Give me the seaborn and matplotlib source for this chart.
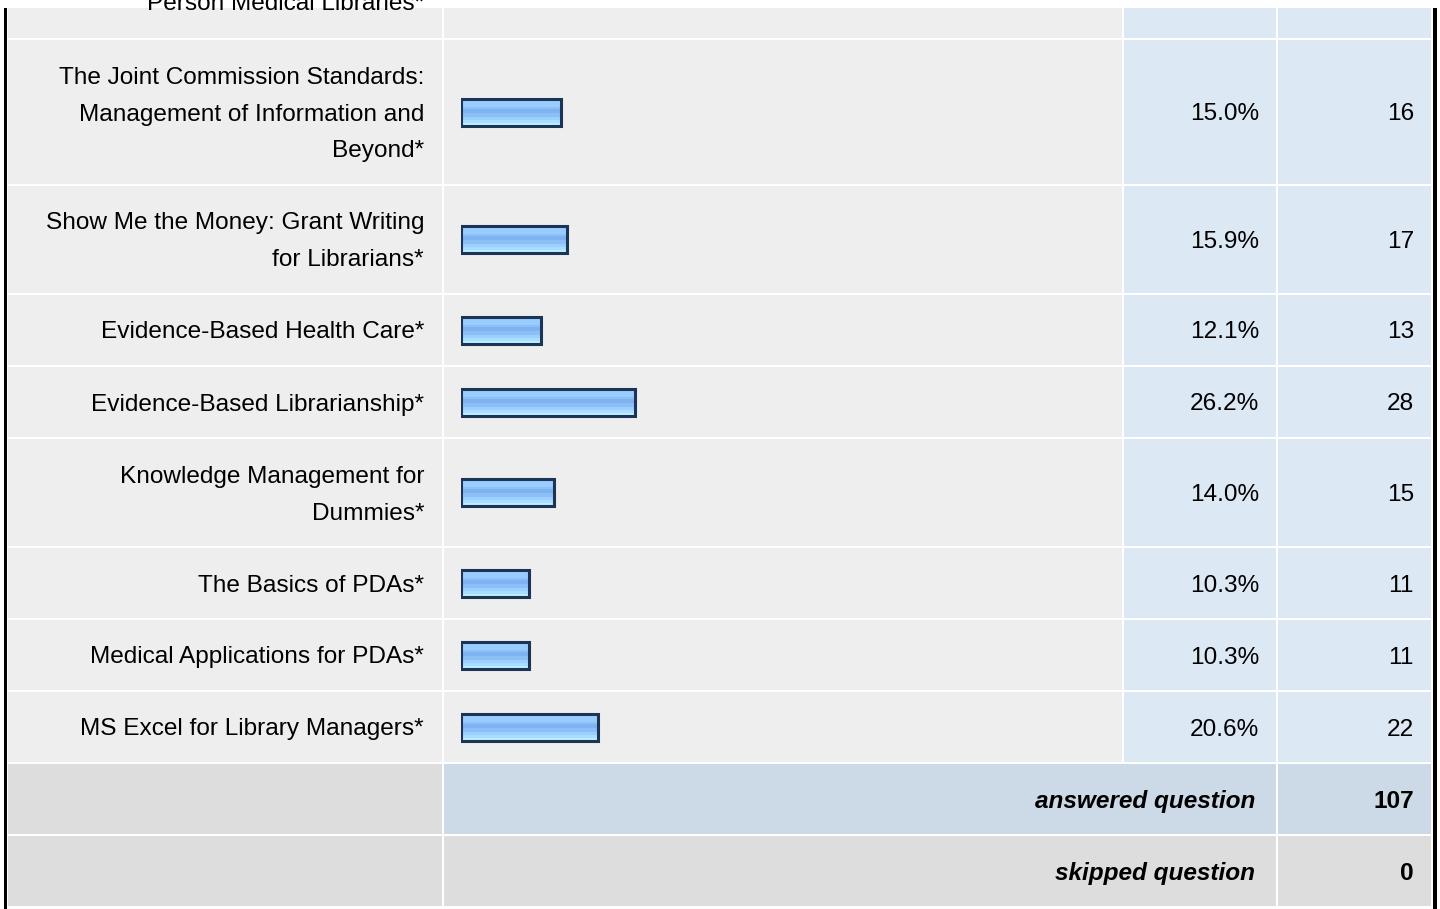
import matplotlib
matplotlib.use("Agg")
import matplotlib.pyplot as plt
from matplotlib.patches import Rectangle
import seaborn as sns

# ---------------- data ----------------
labels = [
    ["The Joint Commission Standards:", "Management of Information and", "Beyond*"],
    ["Show Me the Money: Grant Writing", "for Librarians*"],
    ["Evidence-Based Health Care*"],
    ["Evidence-Based Librarianship*"],
    ["Knowledge Management for", "Dummies*"],
    ["The Basics of PDAs*"],
    ["Medical Applications for PDAs*"],
    ["MS Excel for Library Managers*"],
]
percents = [15.0, 15.9, 12.1, 26.2, 14.0, 10.3, 10.3, 20.6]
counts = [16, 17, 13, 28, 15, 11, 11, 22]
partial_label = "Person Medical Libraries*"
answered_label = "answered question"
answered_value = 107
skipped_label = "skipped question"
skipped_value = 0

# ---------------- style ----------------
sns.set_style("white")
plt.rcParams["font.family"] = ["Liberation Sans", "DejaVu Sans"]

W, H = 1440, 909
FS = 17.6
GRAY = "#EEEEEE"
BLUE = "#DDE8F5"
FOOT_GRAY = "#DDDDDD"
FOOT_BLUE = "#CCD9E6"
NAVY = "#1C3557"
TXT = "#000000"

fig = plt.figure(figsize=(W / 100, H / 100), dpi=100)
fig.patch.set_facecolor("white")
ax = fig.add_axes([0, 0, 1, 1])
ax.set_xlim(0, W)
ax.set_ylim(H, 0)
ax.axis("off")

# column layout (pixels)
c1 = (8, 442)
c2 = (444, 1122)
c3 = (1124, 1276)
c4 = (1278, 1431)
GAP = 2
LINE = 37


def cell(x0x1, y0, y1, color):
    ax.add_patch(Rectangle((x0x1[0], y0), x0x1[1] - x0x1[0], y1 - y0,
                           facecolor=color, edgecolor="none", zorder=1))


# partial first row
top = 8
first_end = 38
for cx, col in ((c1, GRAY), (c2, GRAY), (c3, BLUE), (c4, BLUE)):
    cell(cx, top, first_end, col)
ax.text(424, 10.5, partial_label, ha="right", va="baseline", fontsize=FS,
        color=TXT, zorder=5)

# data rows
y = first_end + GAP
centers = []
for lines, pct, cnt in zip(labels, percents, counts):
    h = 70 + LINE * (len(lines) - 1)
    y0, y1 = y, y + h
    for cx, col in ((c1, GRAY), (c2, GRAY), (c3, BLUE), (c4, BLUE)):
        cell(cx, y0, y1, col)
    yc = (y0 + y1) / 2
    centers.append(yc)
    n = len(lines)
    for i, ln in enumerate(lines):
        ly = yc + (i - (n - 1) / 2) * LINE
        ax.text(424, ly, ln, ha="right", va="center_baseline", fontsize=FS,
                color=TXT, zorder=5)
    ax.text(1259, yc, f"{pct:.1f}%", ha="right", va="center_baseline",
            fontsize=FS, color=TXT, zorder=5)
    ax.text(1414, yc, f"{cnt}", ha="right", va="center_baseline",
            fontsize=FS, color=TXT, zorder=5)
    y = y1 + GAP

# footer rows
for label, value, mid_col in ((answered_label, answered_value, FOOT_BLUE),
                              (skipped_label, skipped_value, FOOT_GRAY)):
    y0, y1 = y, y + 70
    cell(c1, y0, y1, FOOT_GRAY)
    cell((c2[0], c3[1]), y0, y1, mid_col)
    cell(c4, y0, y1, mid_col)
    yc = (y0 + y1) / 2
    ax.text(1255, yc, label, ha="right", va="center_baseline", fontsize=FS,
            fontweight="bold", fontstyle="italic", color=TXT, zorder=5)
    ax.text(1414, yc, f"{value}", ha="right", va="center_baseline",
            fontsize=FS, fontweight="bold", color=TXT, zorder=5)
    y = y1 + GAP

# outer black borders
ax.add_patch(Rectangle((4, top), 3.2, H - top, facecolor="black",
                       edgecolor="none", zorder=6))
ax.add_patch(Rectangle((1433.3, top), 3.2, H - top, facecolor="black",
                       edgecolor="none", zorder=6))

# ---------------- bars (percent scale, 0-100 across the bar column) -------
bx = fig.add_axes([461 / W, 0, 665 / W, 1])
bx.set_xlim(0, 100)
bx.set_ylim(H, 0)
bx.patch.set_alpha(0)

BAR_H = 27
stripes = [
    (0, 8, "#99CCFF"),
    (8, 2, "#8EC0F8"),
    (10, 4, "#7FB2F0"),
    (14, 4, "#8CBFF5"),
    (18, 3, "#99D0FF"),
    (21, 3, "#AADDFF"),
    (24, 3, "#BBEEFF"),
]
for off, hh, col in stripes:
    ys = [c - BAR_H / 2 + off + hh / 2 for c in centers]
    bx.barh(ys, percents, height=hh, left=0, color=col, linewidth=0, zorder=2)

min_gap = min(b - a for a, b in zip(sorted(centers)[:-1], sorted(centers)[1:]))
sns.barplot(x=percents, y=centers, orient="y", native_scale=True,
            fill=False, color=NAVY, linewidth=2.2, errorbar=None,
            width=BAR_H / min_gap, ax=bx, zorder=3)
bx.set_xlim(0, 100)
bx.set_ylim(H, 0)
bx.axis("off")

fig.savefig("out.png", dpi=100, facecolor="white")
